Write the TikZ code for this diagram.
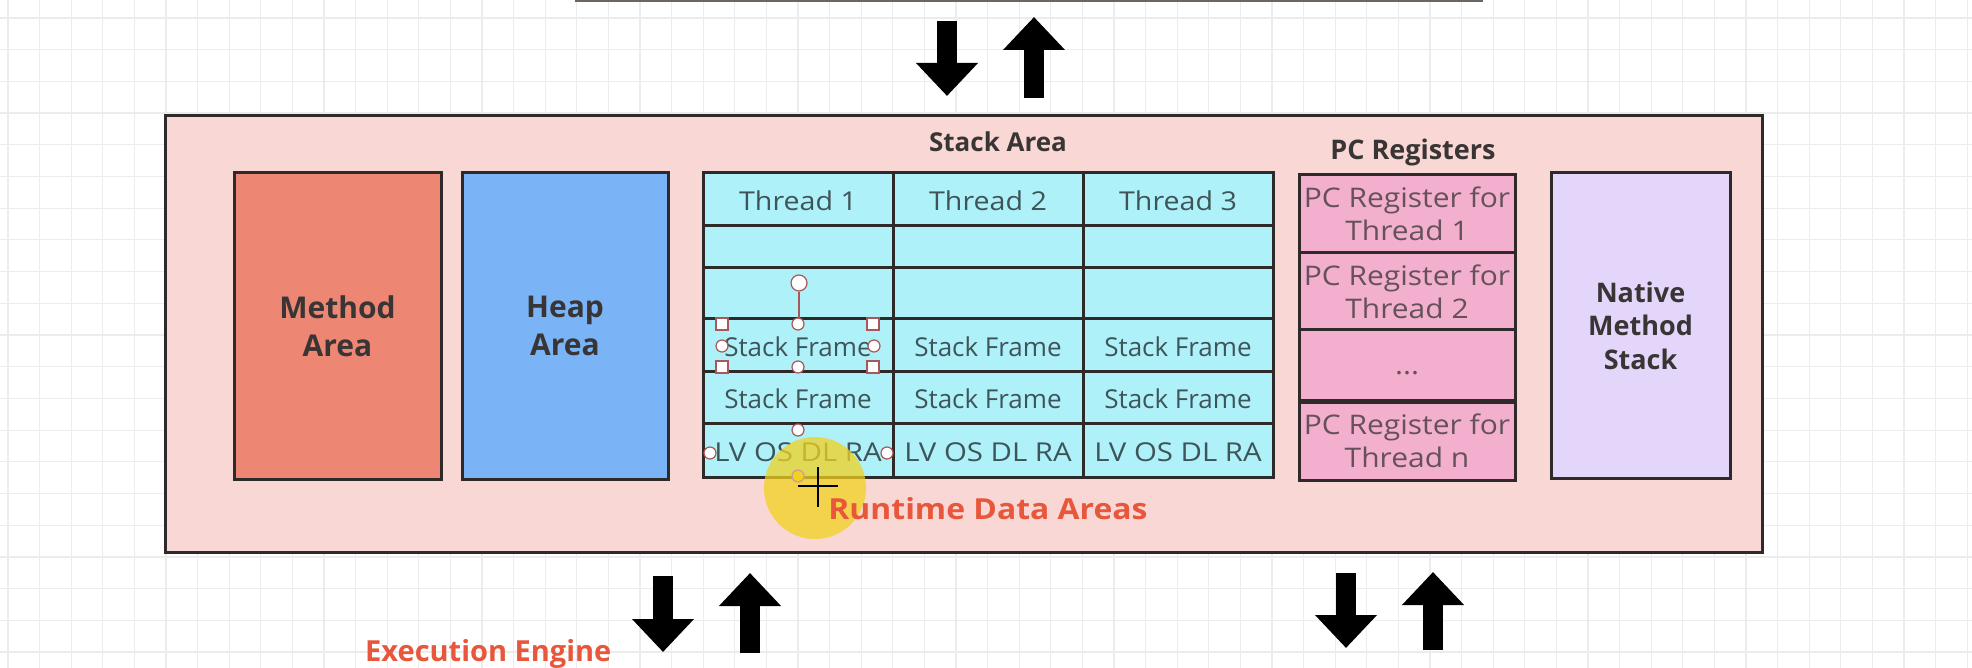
\documentclass[tikz,border=0pt]{standalone}
\usepackage{fontspec}
\setmainfont{Open Sans}
\newfontfamily\fsA[FakeStretch=1.1]{Open Sans}
\newfontfamily\fsB[FakeStretch=1.13]{Open Sans}
\newfontfamily\fsC[FakeStretch=1.11]{Open Sans}
\usetikzlibrary{arrows.meta}
\definecolor{gridc}{HTML}{ECECEC}
\definecolor{bordc}{HTML}{2F2A2A}
\definecolor{outerfill}{HTML}{F8D7D4}
\definecolor{methodfill}{HTML}{EE8674}
\definecolor{heapfill}{HTML}{7AB4F6}
\definecolor{stackfill}{HTML}{AEF1F9}
\definecolor{pcfill}{HTML}{F2B0CE}
\definecolor{nativefill}{HTML}{E4D6FA}
\definecolor{celltext}{HTML}{3F5459}
\definecolor{pctext}{HTML}{65505C}
\definecolor{labeltext}{HTML}{3A3535}
\definecolor{accent}{HTML}{E8573C}
\definecolor{handlec}{HTML}{A85858}
\definecolor{hilite}{HTML}{F2D21F}
\definecolor{topedge}{HTML}{6E6660}
\begin{document}
\begin{tikzpicture}[x=1pt,y=-1pt,
  box/.style={draw=bordc, line width=3pt, inner sep=0pt, align=center},
  bigbox/.style={box, text=labeltext, font=\fontsize{30}{38}\selectfont\bfseries},
  cell/.style={box, fill=stackfill, minimum width=190pt, text=celltext,
    font=\fontsize{26}{30}\selectfont, text height=23pt, text depth=0pt},
  threadcell/.style={cell, font=\fontsize{26}{30}\fsA},
  lvcell/.style={cell, font=\fontsize{26}{30}\fsB},
  pccell/.style={box, fill=pcfill, minimum width=216pt, text=pctext,
    font=\fontsize{27}{33}\fsC},
  title/.style={inner sep=0pt, text=labeltext, font=\fontsize{26}{30}\selectfont\bfseries},
  accentlabel/.style={inner sep=0pt, text=accent, font=\fontsize{29}{34}\selectfont\bfseries},
  bigarrow/.style={draw=black, line width=20pt, -{Triangle[width=60pt,length=33pt]}},
  sqhandle/.style={draw=handlec, fill=white, line width=1.2pt, minimum size=12pt, inner sep=0pt},
  cirhandle/.style={draw=handlec, fill=white, line width=1.2pt, circle, minimum size=12pt, inner sep=0pt},
]
\useasboundingbox (0,0) rectangle (1972,668);
\fill[white] (0,0) rectangle (1972,668);
% background grid
\foreach \i in {0,...,62} \draw[gridc, line width=1.2pt] ({8+31.6*\i},0) -- ({8+31.6*\i},668);
\foreach \j in {0,...,20} \draw[gridc, line width=1.2pt] (0,{18+31.7*\j}) -- (1972,{18+31.7*\j});

% cut-off box edge at the top
\coordinate (topL) at (575,1);
\coordinate (topR) at (1483,1);
\draw[topedge, line width=2.5pt] (topL) -- (topR);

% outer runtime box
\node[box, fill=outerfill, minimum width=1597pt, minimum height=436pt] (rda) at (963.5,334) {};

% method and heap
\node[bigbox, fill=methodfill, minimum width=207pt, minimum height=306pt] (method) at (337.5,326) {Method\\Area};
\node[bigbox, fill=heapfill, minimum width=206pt, minimum height=306pt] (heap) at (565,326) {Heap\\Area};

% stack area
\node[title, anchor=base] (stacktitle) at (998,152) {Stack Area};
\node[threadcell, minimum height=53pt] (s11) at (798,199.5) {Thread 1};
\node[threadcell, minimum height=53pt] (s12) at (988,199.5) {Thread 2};
\node[threadcell, minimum height=53pt] (s13) at (1178,199.5) {Thread 3};
\node[cell, minimum height=42pt] (s21) at (798,247) {};
\node[cell, minimum height=42pt] (s22) at (988,247) {};
\node[cell, minimum height=42pt] (s23) at (1178,247) {};
\node[cell, minimum height=50pt] (s31) at (798,293) {};
\node[cell, minimum height=50pt] (s32) at (988,293) {};
\node[cell, minimum height=50pt] (s33) at (1178,293) {};
\node[cell, minimum height=53pt] (s41) at (798,344.5) {Stack Frame};
\node[cell, minimum height=53pt] (s42) at (988,344.5) {Stack Frame};
\node[cell, minimum height=53pt] (s43) at (1178,344.5) {Stack Frame};
\node[cell, minimum height=52pt] (s51) at (798,397) {Stack Frame};
\node[cell, minimum height=52pt] (s52) at (988,397) {Stack Frame};
\node[cell, minimum height=52pt] (s53) at (1178,397) {Stack Frame};
\node[lvcell, minimum height=54pt] (s61) at (798,450) {LV OS DL RA};
\node[lvcell, minimum height=54pt] (s62) at (988,450) {LV OS DL RA};
\node[lvcell, minimum height=54pt] (s63) at (1178,450) {LV OS DL RA};

% PC registers
\node[title, anchor=base, font=\fontsize{27}{30}\selectfont\bfseries] (pctitle) at (1413,160) {PC Registers};
\node[pccell, minimum height=78pt] (pc1) at (1407,214) {PC Register for\\Thread 1};
\node[pccell, minimum height=78pt] (pc2) at (1407,292) {PC Register for\\Thread 2};
\node[pccell, minimum height=71pt, text height=20pt, text depth=0pt] (pc3) at (1407,364.5) {...};
\node[pccell, minimum height=78pt] (pc4) at (1407,441) {PC Register for\\Thread n};

% native method stack
\node[bigbox, fill=nativefill, minimum width=179pt, minimum height=305pt,
  font=\fontsize{27}{33.5}\selectfont\bfseries] (native) at (1640.5,325.5) {Native\\Method\\Stack};

% selection handles on the selected stack frame
\node[cirhandle, minimum size=16pt] (rot) at (799,283) {};
\draw[handlec, line width=1.2pt] (rot.south) -- (799,318);
\node[sqhandle] (h1) at (722,324) {};
\node[sqhandle] (h2) at (873,324) {};
\node[sqhandle] (h3) at (722,367) {};
\node[sqhandle] (h4) at (873,367) {};
\node[cirhandle] (h5) at (798,324) {};
\node[cirhandle] (h6) at (798,367) {};
\node[cirhandle] (h7) at (722,346) {};
\node[cirhandle] (h8) at (874,346) {};
\node[cirhandle] (h9) at (798,430) {};
\node[cirhandle] (h10) at (710,453) {};
\node[cirhandle] (h11) at (887,453) {};

% cursor highlight
\fill[hilite, opacity=0.75] (815,488) circle (51);
\node[cirhandle, fill=hilite, draw=handlec!60] (h12) at (798,476) {};

% labels
\node[accentlabel, anchor=base, font=\fontsize{29}{34}\fsA\bfseries] (rdalabel) at (988,519) {Runtime Data Areas};
\node[accentlabel, anchor=base west] (eelabel) at (365,661) {Execution Engine};

% cursor cross
\draw[black, line width=2pt] (818,467) -- (818,507);
\draw[black, line width=2pt] (798,486) -- (838,486);

% arrows
\coordinate (a1s) at (947,21);  \coordinate (a1e) at (947,96);
\coordinate (a2s) at (1034,98); \coordinate (a2e) at (1034,17);
\coordinate (b1s) at (663,576); \coordinate (b1e) at (663,652);
\coordinate (b2s) at (750,653); \coordinate (b2e) at (750,573);
\coordinate (c1s) at (1346,573); \coordinate (c1e) at (1346,648);
\coordinate (c2s) at (1433,650); \coordinate (c2e) at (1433,572);
\draw[bigarrow] (a1s) -- (a1e);
\draw[bigarrow] (a2s) -- (a2e);
\draw[bigarrow] (b1s) -- (b1e);
\draw[bigarrow] (b2s) -- (b2e);
\draw[bigarrow] (c1s) -- (c1e);
\draw[bigarrow] (c2s) -- (c2e);
\end{tikzpicture}
\end{document}
